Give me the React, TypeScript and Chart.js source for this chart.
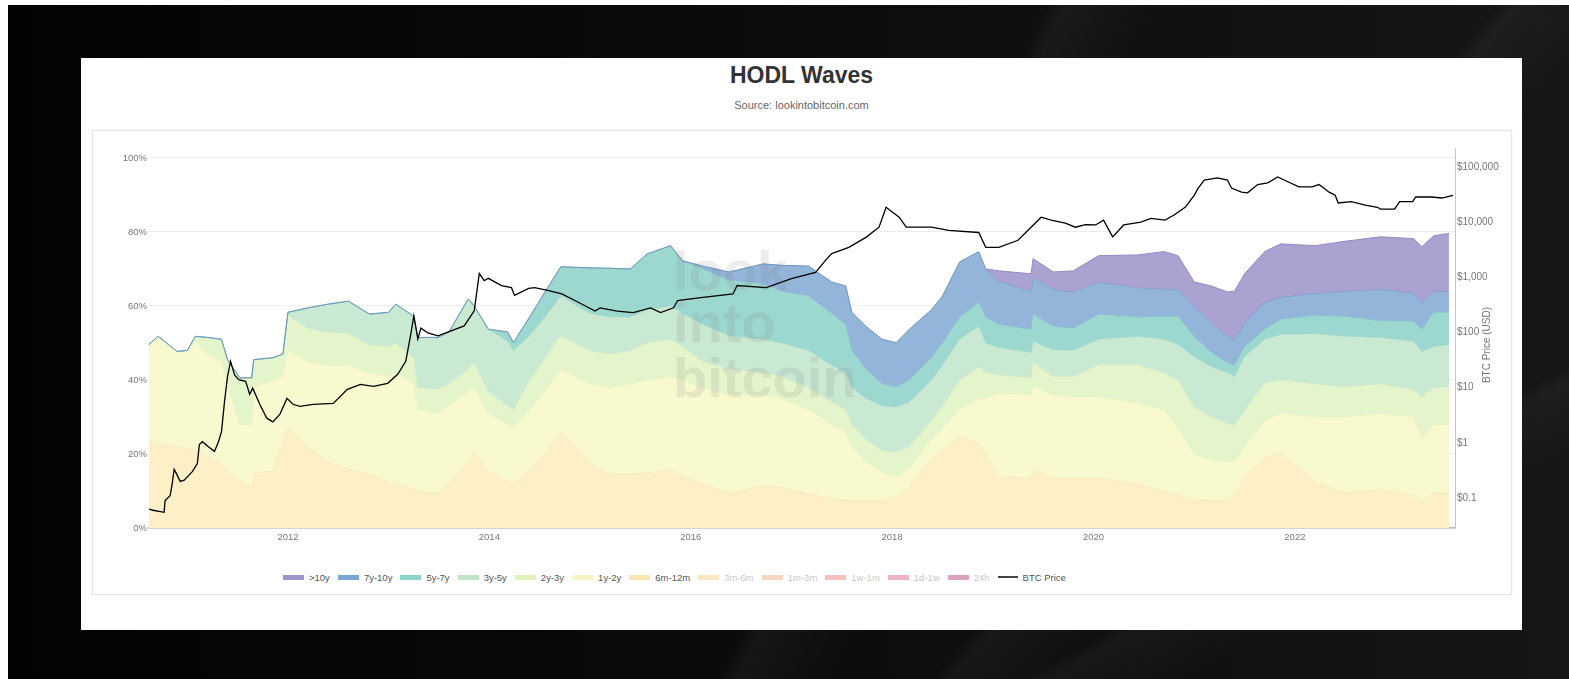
import React, { useEffect, useRef } from "react";
import { Chart, registerables } from "chart.js";

Chart.register(...registerables);

// ---------- DATA ----------
// Dates (decimal years) at which the cumulative band boundaries were read
const bandDates = [
  2010.62, 2010.71, 2010.9, 2011.0, 2011.08, 2011.2, 2011.34, 2011.4, 2011.52, 2011.64,
  2011.66, 2011.85, 2011.95, 2012.0, 2012.2, 2012.4, 2012.6, 2012.81, 2013.0, 2013.07,
  2013.25, 2013.29, 2013.49, 2013.6, 2013.79, 2013.85, 2013.99, 2014.18, 2014.24, 2014.4,
  2014.58, 2014.71, 2015.0, 2015.2, 2015.4, 2015.57, 2015.8, 2015.92, 2016.12, 2016.38,
  2016.72, 2016.9, 2017.17, 2017.4, 2017.54, 2017.6, 2017.74, 2017.9, 2018.04, 2018.17,
  2018.39, 2018.5, 2018.67, 2018.86, 2018.93, 2019.06, 2019.38, 2019.4, 2019.6, 2019.8,
  2020.05, 2020.44, 2020.7, 2020.84, 2021.0, 2021.17, 2021.33, 2021.4, 2021.5, 2021.7,
  2021.86, 2022.2, 2022.5, 2022.85, 2023.18, 2023.26, 2023.38, 2023.53,
];

// Upper edge (cumulative % of supply) of each band, bottom band first
const top6m12m = [
  23.7, 23.0, 22.0, 21.5, 21.0, 19.5, 17.4, 15.5, 12.8, 11.0,
  15.0, 15.5, 24.0, 27.0, 21.8, 18.0, 16.0, 14.5, 12.5, 12.0,
  10.5, 10.0, 9.3, 12.0, 18.0, 20.2, 15.5, 12.5, 12.0, 16.0,
  21.0, 26.0, 17.5, 14.7, 14.7, 15.0, 16.0, 14.0, 12.0, 9.5,
  11.5, 11.0, 9.3, 8.0, 7.4, 7.4, 7.4, 7.4, 8.5, 11.0,
  19.0, 21.0, 25.0, 23.0, 20.0, 14.0, 13.6, 16.0, 13.6, 13.6,
  13.6, 12.0, 10.0, 9.0, 7.5, 7.4, 7.4, 9.0, 14.0, 19.0,
  20.4, 12.5, 9.5, 10.5, 9.0, 7.4, 9.5, 9.3,
];
const top1y2y = [
  49.6, 51.8, 47.7, 48.0, 50.5, 47.0, 45.0, 39.0, 28.0, 28.0,
  38.0, 40.0, 41.0, 48.0, 45.0, 44.0, 44.0, 42.0, 41.0, 42.0,
  39.0, 32.0, 31.0, 33.0, 37.0, 38.0, 31.0, 28.0, 27.0, 32.0,
  38.0, 43.0, 39.0, 38.0, 39.0, 40.0, 41.0, 40.0, 38.0, 36.0,
  36.0, 35.0, 32.0, 28.0, 26.0, 22.0, 18.0, 15.0, 14.0, 16.0,
  24.0, 27.0, 32.0, 35.0, 35.0, 36.5, 36.0, 38.4, 36.0, 35.5,
  35.4, 33.8, 31.9, 27.0, 20.0, 18.5, 18.0, 18.0, 22.0, 29.0,
  31.0, 30.0, 30.0, 31.0, 30.0, 24.5, 28.0, 28.0,
];
const top2y3y = [
  49.6, 51.8, 47.7, 48.0, 51.8, 51.5, 51.0, 45.5, 40.6, 40.6,
  45.5, 46.0, 47.0, 57.5, 54.0, 53.0, 52.5, 49.5, 49.0, 50.0,
  46.0, 38.0, 37.5, 39.0, 43.0, 44.7, 37.0, 33.0, 32.0, 40.0,
  47.0, 52.0, 48.0, 47.0, 48.0, 50.0, 51.0, 49.0, 45.0, 43.0,
  42.0, 41.0, 38.0, 34.0, 32.0, 28.0, 24.0, 21.0, 20.5, 22.0,
  29.0, 33.0, 40.0, 43.6, 42.0, 41.4, 40.6, 44.7, 41.0, 41.0,
  44.1, 44.1, 42.0, 40.0, 32.7, 30.0, 28.3, 27.8, 31.9, 39.2,
  40.0, 39.0, 38.1, 39.0, 37.3, 35.4, 38.1, 38.1,
];
const top3y5y = [
  49.6, 51.8, 47.7, 48.0, 51.8, 51.5, 51.0, 45.5, 40.6, 40.6,
  45.5, 46.0, 47.0, 58.3, 59.5, 60.5, 61.3, 57.8, 58.3, 60.5,
  57.2, 51.5, 51.5, 53.0, 61.9, 60.0, 53.7, 50.5, 48.0, 52.0,
  58.0, 62.7, 58.0, 57.0, 57.0, 59.0, 60.0, 58.0, 55.0, 52.0,
  51.0, 50.0, 48.0, 44.0, 42.0, 38.0, 35.0, 33.0, 32.7, 34.0,
  40.0, 44.0, 51.0, 54.5, 50.0, 48.8, 47.4, 50.4, 48.2, 48.0,
  51.0, 51.8, 51.0, 49.6, 46.3, 43.6, 42.0, 40.9, 46.3, 51.0,
  52.3, 52.5, 51.8, 51.5, 50.4, 47.7, 49.0, 49.6,
];
const top5y7y = [
  49.6, 51.8, 47.7, 48.0, 51.8, 51.5, 51.0, 45.5, 40.6, 40.6,
  45.5, 46.0, 47.0, 58.3, 59.5, 60.5, 61.3, 57.8, 58.3, 60.5,
  57.2, 51.5, 51.5, 53.0, 61.9, 60.0, 53.7, 53.0, 50.1, 57.0,
  65.0, 70.6, 70.3, 70.2, 70.0, 74.1, 76.3, 72.2, 70.0, 67.0,
  66.0, 64.0, 62.7, 58.0, 55.0, 48.0, 43.0, 39.0, 38.1, 40.0,
  46.0, 50.0, 57.0, 61.0, 57.0, 55.0, 53.7, 57.8, 54.5, 54.0,
  57.8, 57.0, 57.2, 57.2, 51.8, 47.4, 44.7, 44.1, 49.0, 53.7,
  56.4, 57.5, 57.2, 56.0, 55.9, 53.7, 58.3, 58.3,
];
const top7y10y = [
  49.6, 51.8, 47.7, 48.0, 51.8, 51.5, 51.0, 45.5, 40.6, 40.6,
  45.5, 46.0, 47.0, 58.3, 59.5, 60.5, 61.3, 57.8, 58.3, 60.5,
  57.2, 51.5, 51.5, 53.0, 61.9, 60.0, 53.7, 53.0, 50.1, 57.0,
  65.0, 70.6, 70.3, 70.2, 70.0, 74.1, 76.3, 72.2, 70.8, 69.2,
  71.4, 71.0, 70.8, 66.5, 65.4, 58.3, 54.5, 51.0, 50.1, 53.7,
  59.0, 62.7, 71.9, 74.7, 70.0, 66.8, 64.0, 67.8, 64.5, 63.8,
  66.5, 65.0, 64.6, 64.6, 60.0, 55.6, 51.8, 51.0, 55.6, 61.0,
  62.4, 63.5, 64.0, 64.6, 63.5, 61.0, 64.0, 64.0,
];
const topOver10y = [
  null, null, null, null, null, null, null, null, null, null,
  null, null, null, null, null, null, null, null, null, null,
  null, null, null, null, null, null, null, null, null, null,
  null, null, null, null, null, null, null, null, null, null,
  null, null, null, null, null, null, null, null, null, null,
  null, null, null, null, 70.0, 69.5, 68.7, 72.8, 69.2, 69.5,
  73.6, 73.8, 74.7, 73.6, 66.5, 65.4, 63.8, 64.0, 68.7, 74.7,
  76.8, 76.3, 77.5, 78.7, 78.2, 76.0, 79.0, 79.6,
];

// BTC price (USD)
const priceDates = [
  2010.62, 2010.66, 2010.77, 2010.78, 2010.83, 2010.85, 2010.87, 2010.9, 2010.93, 2010.97,
  2011.05, 2011.1, 2011.12, 2011.15, 2011.21, 2011.27, 2011.31, 2011.34, 2011.37, 2011.4,
  2011.43, 2011.47, 2011.51, 2011.58, 2011.62, 2011.65, 2011.72, 2011.79, 2011.85, 2011.92,
  2011.99, 2012.05, 2012.12, 2012.25, 2012.45, 2012.59, 2012.72, 2012.85, 2012.99, 2013.09,
  2013.17, 2013.22, 2013.25, 2013.29, 2013.32, 2013.39, 2013.49, 2013.62, 2013.75, 2013.85,
  2013.9, 2013.95, 2013.99, 2014.12, 2014.22, 2014.25, 2014.39, 2014.45, 2014.59, 2014.72,
  2014.85, 2015.05, 2015.1, 2015.27, 2015.43, 2015.6, 2015.7, 2015.83, 2015.87, 2016.1,
  2016.42, 2016.46, 2016.75, 2017.0, 2017.24, 2017.34, 2017.4, 2017.57, 2017.74, 2017.87,
  2017.94, 2018.07, 2018.14, 2018.39, 2018.56, 2018.86, 2018.93, 2019.06, 2019.25, 2019.38,
  2019.48, 2019.58, 2019.72, 2019.82, 2019.92, 2020.02, 2020.1, 2020.19, 2020.3, 2020.47,
  2020.57, 2020.71, 2020.8, 2020.91, 2021.0, 2021.04, 2021.1, 2021.23, 2021.33, 2021.37,
  2021.47, 2021.53, 2021.63, 2021.73, 2021.83, 2021.93, 2022.04, 2022.17, 2022.24, 2022.34,
  2022.4, 2022.43, 2022.56, 2022.7, 2022.82, 2022.85, 2022.99, 2023.04, 2023.17, 2023.2,
  2023.36, 2023.46, 2023.57,
];
const priceValues = [
  0.063, 0.06, 0.055, 0.09, 0.11, 0.18, 0.33, 0.26, 0.2, 0.21,
  0.3, 0.42, 0.93, 1.05, 0.85, 0.7, 1.05, 1.6, 5.6, 16,
  30, 17, 14, 13, 7.6, 9.8, 5, 2.8, 2.4, 3.3,
  6.4, 5.0, 4.6, 5.0, 5.2, 9.3, 11.5, 10.6, 12, 17.5,
  30, 93, 200, 76, 120, 98, 87, 107, 132, 247,
  1170, 870, 960, 710, 650, 470, 630, 650, 575, 500,
  380, 245, 280, 245, 230, 280, 230, 280, 380, 430,
  500, 710, 650, 950, 1230, 2050, 2700, 3500, 5300, 8100,
  18600, 12300, 8100, 8100, 7100, 6500, 3500, 3500, 4700, 8100,
  12300, 10900, 9600, 8100, 9000, 8900, 10900, 5400, 8900, 10000,
  11700, 10900, 13500, 18600, 30700, 41500, 58000, 63500, 58000, 41500,
  35000, 34000, 48000, 51500, 66000, 54000, 43600, 43600, 48000, 35000,
  30700, 22300, 23500, 20400, 18600, 17200, 17200, 23500, 23500, 28600,
  28600, 27400, 30700,
];

const xTicks = [2012, 2014, 2016, 2018, 2020, 2022];
const pctTicks = [0, 20, 40, 60, 80, 100];
const priceTicks = [0.1, 1, 10, 100, 1000, 10000, 100000];

const legendItems = [
  { label: ">10y", color: "#9e94cc", active: true },
  { label: "7y-10y", color: "#79a7d4", active: true },
  { label: "5y-7y", color: "#8dd3ca", active: true },
  { label: "3y-5y", color: "#bfe4c8", active: true },
  { label: "2y-3y", color: "#e0f1b9", active: true },
  { label: "1y-2y", color: "#f5f6c4", active: true },
  { label: "6m-12m", color: "#fbe7b3", active: true },
  { label: "3m-6m", color: "#fbe6c6", active: false },
  { label: "1m-3m", color: "#f8d6c0", active: false },
  { label: "1w-1m", color: "#f5c0c0", active: false },
  { label: "1d-1w", color: "#ecb5c5", active: false },
  { label: "24h", color: "#d9a1bb", active: false },
];

const FONT = '"Liberation Sans", Arial, sans-serif';

const overlayPlugin = {
  id: "overlay",
  afterDatasetsDraw(chart: any) {
    const { ctx, chartArea } = chart;
    ctx.save();
    // watermark
    ctx.fillStyle = "rgba(110,110,110,0.12)";
    ctx.font = `bold 56px ${FONT}`;
    ctx.textAlign = "left";
    ctx.textBaseline = "alphabetic";
    const wx = chartArea.left + 524;
    ctx.fillText("look", wx, chartArea.top + 142);
    ctx.fillText("into", wx, chartArea.top + 194);
    ctx.fillText("bitcoin", wx, chartArea.top + 249);
    ctx.restore();
    // right axis title, reading bottom-to-top
    ctx.save();
    ctx.translate(chartArea.right + 32, chartArea.top + 197);
    ctx.rotate(-Math.PI / 2);
    ctx.fillStyle = "#777";
    ctx.font = `10px ${FONT}`;
    ctx.textAlign = "center";
    ctx.textBaseline = "middle";
    ctx.fillText("BTC Price (USD)", 0, 0);
    ctx.restore();
  },
};

export default function App() {
  const ref = useRef<HTMLCanvasElement>(null);

  useEffect(() => {
    const pts = (vals: (number | null)[]) => bandDates.map((d, i) => ({ x: d, y: vals[i] }));
    const band = (label: string, vals: (number | null)[], fill: any, bg: string, line: string, order: number) => ({
      label,
      data: pts(vals),
      fill,
      backgroundColor: bg,
      borderColor: line,
      borderWidth: 1,
      pointRadius: 0,
      yAxisID: "y",
      order,
    });
    const chart = new Chart(ref.current as HTMLCanvasElement, {
      type: "line",
      data: {
        datasets: [
          band("6m-12m", top6m12m, "origin", "#fdf0c6", "#f6e3ad", 10),
          band("1y-2y", top1y2y, "-1", "#f8f9cf", "#f0f1bd", 9),
          band("2y-3y", top2y3y, "-1", "#e4f4cb", "#d9eebd", 8),
          band("3y-5y", top3y5y, "-1", "#c9e9d3", "#b9e1c6", 7),
          band("5y-7y", top5y7y, "-1", "#9dd8d0", "#86cec6", 6),
          band("7y-10y", top7y10y, "-1", "#93b5d9", "#6e95bf", 5),
          band(">10y", topOver10y, "-1", "#aba2d2", "#9488c4", 4),
          {
            label: "BTC Price",
            data: priceDates.map((d, i) => ({ x: d, y: priceValues[i] })),
            fill: false,
            borderColor: "#000",
            borderWidth: 1.3,
            pointRadius: 0,
            yAxisID: "y2",
            order: -1,
          },
        ] as any,
      },
      options: {
        animation: false,
        responsive: false,
        maintainAspectRatio: false,
        layout: { padding: { top: 17, left: 0, right: 0, bottom: 0 } },
        elements: { line: { tension: 0 }, point: { radius: 0 } },
        plugins: { legend: { display: false }, tooltip: { enabled: false }, title: { display: false } },
        scales: {
          x: {
            type: "linear",
            min: 2010.62,
            max: 2023.59,
            afterBuildTicks: (s: any) => {
              s.ticks = xTicks.map((v) => ({ value: v }));
            },
            afterFit: (s: any) => {
              s.height = 33;
            },
            grid: { display: false, drawTicks: false },
            border: { display: true, color: "#bcbcbc", width: 1.5 },
            ticks: {
              color: "#777",
              font: { family: FONT, size: 9.5 },
              padding: 4,
              maxRotation: 0,
              autoSkip: false,
              callback: (v: any) => String(v),
            },
          },
          y: {
            type: "linear",
            position: "left",
            min: 0,
            max: 102.7,
            afterBuildTicks: (s: any) => {
              s.ticks = pctTicks.map((v) => ({ value: v }));
            },
            afterFit: (s: any) => {
              s.width = 56;
            },
            grid: { color: "#ededed", drawTicks: false },
            border: { display: false },
            ticks: {
              color: "#777",
              font: { family: FONT, size: 9.5 },
              padding: 2,
              callback: (v: any) => v + "%",
            },
          },
          y2: {
            type: "logarithmic",
            position: "right",
            min: 0.0286,
            max: 221000,
            afterBuildTicks: (s: any) => {
              s.ticks = priceTicks.map((v) => ({ value: v }));
            },
            afterFit: (s: any) => {
              s.width = 56;
            },
            grid: { display: false, drawTicks: false },
            border: { display: true, color: "#c6c6c6", width: 1 },
            ticks: {
              color: "#777",
              font: { family: FONT, size: 10 },
              padding: 2,
              callback: (v: any) => "$" + Number(v).toLocaleString("en-US"),
            },
          },
        },
      } as any,
      plugins: [overlayPlugin],
    });
    return () => chart.destroy();
  }, []);

  return (
    <div
      style={{
        position: "fixed",
        left: 8,
        top: 5,
        right: 0,
        bottom: 0,
        overflow: "hidden",
        background:
          "linear-gradient(116deg, rgba(255,255,255,0) 0%, rgba(255,255,255,0) 55%, rgba(255,255,255,0.045) 56%, rgba(255,255,255,0) 61%, rgba(255,255,255,0) 100%), linear-gradient(130deg, rgba(255,255,255,0) 70%, rgba(255,255,255,0.04) 71%, rgba(255,255,255,0) 76%), linear-gradient(150deg, rgba(255,255,255,0) 80%, rgba(255,255,255,0.035) 81%, rgba(255,255,255,0) 86%), linear-gradient(90deg, #030303 0%, #0b0b0c 45%, #151618 100%)",
      }}
    >
      <div
        style={{
          position: "absolute",
          left: 73,
          top: 53,
          width: 1441,
          height: 572,
          background: "#fff",
          fontFamily: FONT,
        }}
      >
        <div
          style={{
            position: "absolute",
            top: 6,
            left: 0,
            width: "100%",
            textAlign: "center",
            fontSize: 23,
            lineHeight: "22px",
            fontWeight: "bold",
            color: "#333",
          }}
        >
          HODL Waves
        </div>
        <div
          style={{
            position: "absolute",
            top: 41,
            left: 0,
            width: "100%",
            textAlign: "center",
            fontSize: 11,
            lineHeight: "12px",
            color: "#666",
          }}
        >
          Source: lookintobitcoin.com
        </div>
        <div
          style={{
            position: "absolute",
            left: 11,
            top: 72,
            width: 1418,
            height: 463,
            border: "1px solid #e4e4e4",
            boxShadow: "0 0 2px rgba(0,0,0,0.06)",
          }}
        >
          <canvas ref={ref} width={1418} height={430} style={{ display: "block" }} />
        </div>
        <div
          style={{
            position: "absolute",
            left: 202,
            top: 513,
            height: 12,
            display: "flex",
            alignItems: "center",
            whiteSpace: "nowrap",
            fontSize: 9.5,
          }}
        >
          {legendItems.map((it) => (
            <div key={it.label} style={{ display: "flex", alignItems: "center", marginRight: 8 }}>
              <span style={{ display: "inline-block", width: 21, height: 5, background: it.color, marginRight: 5 }} />
              <span style={{ color: it.active ? "#555" : "#c8c8c8" }}>{it.label}</span>
            </div>
          ))}
          <div style={{ display: "flex", alignItems: "center" }}>
            <span style={{ display: "inline-block", width: 20, height: 2, background: "#444", marginRight: 5 }} />
            <span style={{ color: "#555" }}>BTC Price</span>
          </div>
        </div>
      </div>
    </div>
  );
}
